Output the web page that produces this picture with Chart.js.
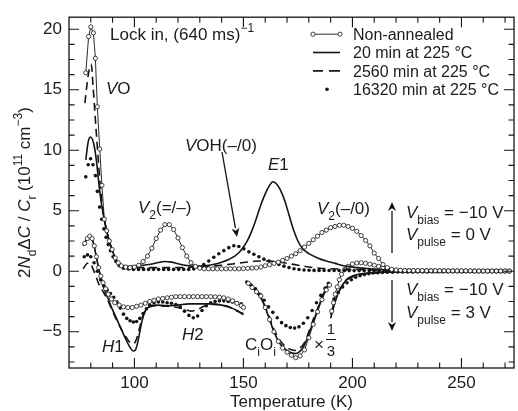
<!DOCTYPE html>
<html><head><meta charset="utf-8">
<script src="https://cdn.jsdelivr.net/npm/chart.js@4.4.1/dist/chart.umd.min.js"></script>
<style>html,body{margin:0;padding:0;background:#fff;}</style>
</head><body>
<canvas id="c" width="518" height="411"></canvas>
<script>
// ---------- axis tick labels ----------
const xTicks = [100, 150, 200, 250];
const yTicks = [-5, 0, 5, 10, 15, 20];
const seriesLabels = ['Non-annealed', '20 min at 225 °C', '2560 min at 225 °C', '16320 min at 225 °C'];

// ---------- Vpulse = 0 V (upper) ----------
const naUpT = [77.7,79.0,80.0,81.2,82.1,83.0,84.1,85.1,86.2,87.3,88.5,89.8,91.2,92.6,94,96,98,100,102,104,106,108,110,112,114,116,118,120,122,124,126,128,130,132,134,136,138,140,142,144,146,148,150,152,154,156,158,160,162,164,166,168,170,172,174,176,178,180,182,184,186,188,190,192,194,196,198,200,202,204,206,208,210,212,214,216,218,220,222,224,226,228,230,232,234,236,238,240,242,244,246,248,250,252,254,256,258,260,262,264,266,268,270,272];
const naUpV = [16.4,19.4,20.2,19.7,17.6,13.6,10.1,7.1,4.3,3.35,2.5,1.8,1.1,0.7,0.45,0.35,0.3,0.35,0.5,0.8,1.25,1.9,2.7,3.4,3.85,3.85,3.45,2.75,1.95,1.25,0.7,0.4,0.25,0.2,0.2,0.2,0.2,0.2,0.2,0.2,0.2,0.2,0.22,0.24,0.26,0.28,0.35,0.45,0.55,0.65,0.75,0.9,1.05,1.25,1.45,1.7,2.0,2.3,2.6,2.9,3.2,3.4,3.6,3.7,3.8,3.8,3.7,3.55,3.3,2.95,2.55,2.1,1.5,1.05,0.55,0.3,0.15,0.1,0.08,0.06,0.05,0.05,0.05,0.05,0.04,0.04,0.04,0.04,0.04,0.03,0.03,0.03,0.03,0.03,0.03,0.02,0.02,0.02,0.02,0.02,0.02,0.02,0.02,0.02];

const c20UpT = [77.7,78.8,79.9,81.4,82.6,83.6,84.6,85.6,86.6,87.6,88.6,89.6,90.6,92,94,97,100,104,108,111,114,117,120,124,128,132,136,140,143,146,148,150,152,154,156,158,160,162,163.5,165,167,169,171,173,175,177,180,184,188,192,196,202,208,215,225,240,255,272];
const c20UpV = [9.2,10.7,11.1,10.5,9.1,7.4,5.9,4.8,3.9,3.1,2.4,1.85,1.35,0.85,0.5,0.4,0.42,0.5,0.6,0.72,0.8,0.75,0.62,0.48,0.42,0.45,0.55,0.75,0.95,1.25,1.55,2.0,2.6,3.4,4.4,5.5,6.4,7.1,7.4,7.25,6.7,5.8,4.6,3.4,2.5,1.9,1.45,1.1,0.85,0.65,0.45,0.3,0.2,0.12,0.06,0.03,0.02,0.01];

const c2560UpT = [77.3,78.3,79.3,80.2,81.0,81.8,82.7,83.6,84.6,85.6,86.6,87.6,88.6,89.6,90.6,92,94,97,100,105,110,115,120,125,130,135,140,145,150,155,160,165,170,175,180,185,190,200,210,220,235,250,272];
const c2560UpV = [13.9,15.5,16.7,17.1,15.4,13.3,11.0,8.8,6.6,4.9,3.9,3.1,2.4,1.85,1.35,0.85,0.5,0.35,0.32,0.3,0.3,0.3,0.3,0.32,0.35,0.42,0.5,0.6,0.72,0.82,0.85,0.8,0.65,0.5,0.35,0.25,0.2,0.15,0.1,0.05,0.03,0.02,0.01];

const c16320UpT = [77.7,78.8,79.9,81.0,82.1,83.0,84.0,85.0,86.0,87.0,88.0,89.0,90.2,91.5,93,95,97.3,99.6,101.9,104.2,106.5,108.8,111.1,113.4,115.7,118,120.3,122.6,124.9,127.2,129.5,131.8,134.1,136.4,138.7,141,143.3,145.6,147.9,150.2,152.5,154.8,157.1,159.4,161.7,164,166.3,168.6,170.9,173.2,175.5,177.8,180.1,182.4,184.7,187,189.3,191.6,193.9,196.2,198.5,200.8,203.1,205.4,207.7,210,212.3,214.6,216.9,219.2,221.5,223.8,226.1,228.4,230.7,233,235.3,237.6,239.9,242.2,244.5,246.8,249.1,251.4,253.7,256,258.3,260.6,262.9,265.2,267.5,269.8,272.1];
const c16320UpV = [7.8,8.8,9.3,8.8,7.9,6.6,5.3,4.3,3.5,2.8,2.2,1.7,1.2,0.8,0.45,0.25,0.18,0.15,0.15,0.15,0.15,0.15,0.15,0.15,0.15,0.15,0.15,0.15,0.15,0.18,0.3,0.55,0.85,1.15,1.45,1.7,1.95,2.1,2.05,1.85,1.6,1.4,1.2,1.0,0.85,0.7,0.55,0.42,0.3,0.2,0.14,0.1,0.08,0.07,0.07,0.06,0.06,0.06,0.06,0.05,0.05,0.05,0.05,0.05,0.05,0.04,0.04,0.04,0.04,0.04,0.04,0.04,0.03,0.03,0.03,0.03,0.03,0.03,0.03,0.03,0.03,0.02,0.02,0.02,0.02,0.02,0.02,0.02,0.02,0.02,0.02,0.02,0.02];

// ---------- Vpulse = 3 V (lower; null = break) ----------
const naLowT = [77.2,78.4,79.5,80.6,81.6,82.6,83.6,84.6,85.6,86.8,88,89.5,91,93,95,97,99,101,103,105,107,109,111,113,115,117,119,121,123,125,127,129,131,133,135,137,139,141,143,145,147,149,150,151,152.3,154,156,158,160,162,164,166,168,170,172,174,176,178,180,182,184,186,188,189.5,190,190.5,191.3,192.1,193,194,195,196.5,198,200,202,204,206,208,210,212,214,216,218,220,222,224,226,228,230,232,234,236,238,240,242,244,246,248,250,252,254,256,258,260,262,264,266,268,270,272];
const naLowV = [2.3,2.7,2.9,2.7,2.1,1.2,0.3,-0.4,-0.95,-1.45,-1.9,-2.3,-2.6,-2.8,-2.95,-3.0,-3.0,-2.9,-2.8,-2.65,-2.5,-2.4,-2.3,-2.25,-2.2,-2.15,-2.1,-2.1,-2.1,-2.1,-2.1,-2.1,-2.1,-2.1,-2.1,-2.12,-2.15,-2.2,-2.3,-2.45,-2.65,-2.85,-3.0,null,-1.0,-1.35,-1.7,-2.05,-3.0,-4.0,-5.0,-5.8,-6.35,-6.7,-6.95,-7.15,-7.0,-6.5,-5.5,-4.4,-3.35,-2.35,-1.55,-1.15,null,-3.3,-2.6,-1.9,-1.3,-0.7,-0.25,0.15,0.4,0.6,0.68,0.7,0.65,0.58,0.5,0.4,0.3,0.2,0.12,0.08,0.06,0.05,0.05,0.04,0.04,0.04,0.03,0.03,0.03,0.03,0.03,0.02,0.02,0.02,0.02,0.02,0.02,0.02,0.01,0.01,0.01,0.01,0.01,0.01,0.01,0.01,0.01,0.01];

const c20LowT = [76.5,78,79.5,80.5,81.5,82.5,83.5,84.5,86,88,90,92,94,96,98,99.5,100.5,101.5,102.5,103.5,105,107,110,115,120,125,130,135,140,144,147,150,151,152,155,158,160,162,164,166,168,170,172,174,176,178,180,182,184,186,188,189.5,189.8,190,191.5,193,195,197.5,200,204,210,215,225,240,272];
const c20LowV = [2.1,2.6,2.9,2.7,2.1,1.2,0.3,-0.5,-1.4,-2.3,-3.2,-4.0,-4.8,-5.6,-6.3,-6.6,-6.5,-5.9,-5.0,-4.1,-3.3,-2.9,-2.8,-2.85,-2.8,-2.7,-2.7,-2.7,-2.8,-3.0,-3.25,-3.6,null,-1.0,-1.5,-2.2,-3.0,-4.0,-5.0,-5.75,-6.25,-6.55,-6.75,-6.8,-6.6,-6.1,-5.2,-4.2,-3.2,-2.2,-1.4,-1.0,null,-3.9,-2.9,-2.0,-1.3,-0.65,-0.4,-0.22,-0.12,-0.08,-0.04,-0.02,0];

const c2560LowT = [76.5,78,79.5,81,82.5,84,86,88,90,92,94,96,98,99.5,100.5,101.5,102.5,103.5,105,107,110,115,120,123,126,129,132,136,140,144,147,150,151,152,155,158,160,162,164,166,168,170,172,174,176,178,180,182,184,186,188,189.5,189.8,190,192,194,196,199,203,210,220,240,272];
const c2560LowV = [0.2,0.6,0.7,0.2,-0.5,-1.2,-1.8,-2.5,-3.3,-4.1,-4.8,-5.4,-5.9,-6.0,-5.8,-5.3,-4.6,-3.9,-3.25,-2.95,-2.85,-2.9,-3.0,-3.15,-3.3,-3.15,-2.9,-2.75,-2.8,-3.0,-3.3,-3.5,null,-1.0,-1.5,-2.2,-2.9,-3.85,-4.8,-5.5,-6.0,-6.3,-6.5,-6.55,-6.35,-5.9,-5.0,-4.0,-3.1,-2.15,-1.4,-1.0,null,-3.6,-2.5,-1.6,-1.0,-0.55,-0.3,-0.15,-0.06,-0.02,0];

const c16320LowT = [77,78.5,80,81.5,83,84.5,86,87.5,89,90.5,92,93.5,95,96.5,98,99.5,101,102.5,104,105.5,107,109,111,113,115,117,119,121,123,125,127,129,131,133,135,137,139,141,143,145,147,149,151.5,153.5,155.5,157.5,159.5,161.5,163.5,165.5,167.5,169.5,171.5,173.5,175.5,177.5,179.5,181.5,183.5,185.5,187.5,189,191.5,193.5,195.5,197.5,199.5,201.5,203.5,205.5,207.5,209.5,211.5,213.8,216.1,218.4,220.7,223,225.3,227.6,229.9,232.2,234.5,236.8,239.1,241.4,243.7,246,248.3,250.6,252.9,255.2,257.5,259.8,262.1,264.4,266.7,269,271.3];
const c16320LowV = [1.2,1.35,1.2,0.7,0.0,-0.7,-1.2,-1.55,-1.85,-2.15,-2.55,-3.05,-3.55,-3.9,-4.1,-4.2,-4.15,-3.9,-3.5,-3.1,-2.8,-2.6,-2.55,-2.55,-2.6,-2.65,-2.75,-2.95,-3.3,-3.65,-3.85,-3.7,-3.25,-2.85,-2.6,-2.5,-2.45,-2.45,-2.5,-2.55,-2.6,-2.7,-0.9,-1.15,-1.45,-1.9,-2.4,-2.95,-3.4,-3.85,-4.25,-4.5,-4.65,-4.7,-4.6,-4.3,-3.85,-3.25,-2.6,-2.0,-1.4,-1.0,-2.3,-1.75,-1.3,-0.95,-0.7,-0.5,-0.38,-0.28,-0.2,-0.15,-0.12,-0.1,-0.09,-0.08,-0.07,-0.07,-0.06,-0.06,-0.05,-0.05,-0.05,-0.04,-0.04,-0.04,-0.03,-0.03,-0.03,-0.03,-0.02,-0.02,-0.02,-0.02,-0.02,-0.02,-0.01,-0.01,-0.01];

// ---------- build chart ----------
const INK = '#141414';
const FONT = '"Liberation Sans", Arial, Helvetica, sans-serif';
const pts = (T, V) => T.map((t, i) => ({x: t, y: V[i]}));

function circleSet(label, T, V) {
  return {label, data: pts(T, V), borderColor: INK, borderWidth: 0.9, pointRadius: 2.1,
    pointBackgroundColor: '#fff', pointBorderColor: INK, pointBorderWidth: 0.8, pointHoverRadius: 0, spanGaps: false};
}
function solidSet(label, T, V, dash) {
  return {label, data: pts(T, V), borderColor: INK, borderWidth: 1.6, pointRadius: 0,
    borderDash: dash || [], cubicInterpolationMode: 'monotone', spanGaps: false};
}
function dotSet(label, T, V) {
  return {label, data: pts(T, V), showLine: false, borderColor: INK, pointRadius: 1.8,
    pointBackgroundColor: INK, pointBorderWidth: 0};
}

const datasets = [
  circleSet(seriesLabels[0], naUpT, naUpV),
  solidSet(seriesLabels[1], c20UpT, c20UpV),
  solidSet(seriesLabels[2], c2560UpT, c2560UpV, [8, 5]),
  dotSet(seriesLabels[3], c16320UpT, c16320UpV),
  circleSet(seriesLabels[0] + ' (3 V)', naLowT, naLowV),
  solidSet(seriesLabels[1] + ' (3 V)', c20LowT, c20LowV),
  solidSet(seriesLabels[2] + ' (3 V)', c2560LowT, c2560LowV, [8, 5]),
  dotSet(seriesLabels[3] + ' (3 V)', c16320LowT, c16320LowV)
];

function fontFor(style, size) {
  const st = style.split(' ');
  const small = st.includes('sub') || st.includes('sup');
  const s = small ? Math.round(size * 0.7) : size;
  return (st.includes('i') ? 'italic ' : '') + s + 'px ' + FONT;
}
function rich(ctx, x, y, parts, size, align) {
  const ws = parts.map(p => { ctx.font = fontFor(p[1] || '', size); return ctx.measureText(p[0]).width; });
  const total = ws.reduce((a, b) => a + b, 0);
  let cx = align === 'center' ? x - total / 2 : (align === 'right' ? x - total : x);
  parts.forEach((p, i) => {
    const st = (p[1] || '').split(' ');
    const dy = st.includes('sub') ? size * 0.38 : (st.includes('sup') ? -size * 0.5 : 0);
    ctx.font = fontFor(p[1] || '', size);
    ctx.fillText(p[0], cx, y + dy);
    cx += ws[i];
  });
}
function arrow(ctx, x1, y1, x2, y2) {
  const ang = Math.atan2(y2 - y1, x2 - x1), L = 9, W = 4;
  const bx = x2 - L * Math.cos(ang), by = y2 - L * Math.sin(ang);
  ctx.beginPath(); ctx.moveTo(x1, y1); ctx.lineTo(bx, by); ctx.stroke();
  ctx.beginPath(); ctx.moveTo(x2, y2);
  ctx.lineTo(bx + W * Math.sin(ang), by - W * Math.cos(ang));
  ctx.lineTo(bx + 0.3 * L * Math.cos(ang), by + 0.3 * L * Math.sin(ang));
  ctx.lineTo(bx - W * Math.sin(ang), by + W * Math.cos(ang));
  ctx.closePath(); ctx.fill();
}

const decor = {
  id: 'decor',
  afterDraw(chart) {
    const ctx = chart.ctx, a = chart.chartArea, xs = chart.scales.x, ys = chart.scales.y;
    ctx.save();
    ctx.strokeStyle = INK; ctx.fillStyle = INK; ctx.lineWidth = 1.3;
    ctx.strokeRect(a.left, a.top, a.right - a.left, a.bottom - a.top);
    ctx.lineWidth = 1.1;
    ctx.beginPath();
    for (let t = 80; t <= 270; t += 10) {
      const px = xs.getPixelForValue(t), L = (t % 50 === 0) ? 10 : 5.5;
      ctx.moveTo(px, a.bottom); ctx.lineTo(px, a.bottom - L);
      ctx.moveTo(px, a.top); ctx.lineTo(px, a.top + L);
    }
    for (let k = -6; k <= 16; k++) {
      const v = k * 1.25, py = ys.getPixelForValue(v), L = (k % 4 === 0) ? 10 : 5.5;
      ctx.moveTo(a.left, py); ctx.lineTo(a.left + L, py);
      ctx.moveTo(a.right, py); ctx.lineTo(a.right - L, py);
    }
    ctx.stroke();

    // axis titles
    ctx.fillStyle = '#1c1c1c';
    ctx.textBaseline = 'alphabetic';
    ctx.font = '17px ' + FONT; ctx.textAlign = 'center';
    ctx.fillText('Temperature (K)', (a.left + a.right) / 2, 407);
    ctx.textAlign = 'left';
    ctx.save();
    ctx.translate(30, (a.top + a.bottom) / 2); ctx.rotate(-Math.PI / 2);
    rich(ctx, 0, 0, [['2'], ['N', 'i'], ['d', 'sub'], ['\u0394'], ['C', 'i'], [' / '], ['C', 'i'], ['r', 'sub'], [' (10'], ['11', 'sup'], [' cm'], ['\u22123', 'sup'], [')']], 17, 'center');
    ctx.restore();

    // annotations
    const S = 17;
    rich(ctx, 110, 40, [['Lock in, (640 ms)'], ['\u22121', 'sup']], S, 'left');
    rich(ctx, 106, 94, [['V', 'i'], ['O']], S, 'left');
    rich(ctx, 185, 151, [['V', 'i'], ['OH(\u2013/0)']], S, 'left');
    rich(ctx, 138, 213, [['V', 'i'], ['2', 'sub'], ['(=/\u2013)']], S, 'left');
    rich(ctx, 268, 170, [['E', 'i'], ['1']], S, 'left');
    rich(ctx, 317, 214, [['V', 'i'], ['2', 'sub'], ['(\u2013/0)']], S, 'left');
    rich(ctx, 102, 352, [['H', 'i'], ['1']], S, 'left');
    rich(ctx, 182, 340, [['H', 'i'], ['2']], S, 'left');
    rich(ctx, 245, 350, [['C'], ['i', 'sub'], ['O'], ['i', 'sub']], S, 'left');
    ctx.font = '17px ' + FONT; ctx.textAlign = 'center';
    ctx.fillText('\u00d7', 319, 350);
    ctx.font = '15px ' + FONT;
    ctx.fillText('1', 331, 334);
    ctx.fillText('3', 331, 356);
    ctx.lineWidth = 1; ctx.beginPath(); ctx.moveTo(326, 339.5); ctx.lineTo(336, 339.5); ctx.stroke();
    ctx.textAlign = 'left';
    rich(ctx, 406, 218, [['V', 'i'], ['bias', 'sub'], [' = \u221210 V']], S, 'left');
    rich(ctx, 406, 240, [['V', 'i'], ['pulse', 'sub'], [' = 0 V']], S, 'left');
    rich(ctx, 406, 295, [['V', 'i'], ['bias', 'sub'], [' = \u221210 V']], S, 'left');
    rich(ctx, 406, 318, [['V', 'i'], ['pulse', 'sub'], [' = 3 V']], S, 'left');

    // arrows
    ctx.lineWidth = 1.3; ctx.fillStyle = INK;
    arrow(ctx, 392, 253, 392, 202);
    arrow(ctx, 392, 280, 392, 331);
    arrow(ctx, 222, 152, 237, 237);

    // legend
    const rows = [34.2, 52.5, 70.9, 89.2];
    const lx0 = 313, lx1 = 340, tx = 353;
    ctx.lineWidth = 0.9;
    ctx.beginPath(); ctx.moveTo(lx0, rows[0]); ctx.lineTo(lx1, rows[0]); ctx.stroke();
    [lx0, lx1].forEach(px => { ctx.beginPath(); ctx.arc(px, rows[0], 2.1, 0, Math.PI * 2); ctx.fillStyle = '#fff'; ctx.fill(); ctx.lineWidth = 0.8; ctx.stroke(); });
    ctx.lineWidth = 1.6;
    ctx.beginPath(); ctx.moveTo(lx0, rows[1]); ctx.lineTo(lx1, rows[1]); ctx.stroke();
    ctx.beginPath(); ctx.moveTo(lx0, rows[2]); ctx.lineTo(lx0 + 10, rows[2]); ctx.moveTo(lx0 + 16, rows[2]); ctx.lineTo(lx1, rows[2]); ctx.stroke();
    ctx.fillStyle = INK;
    ctx.beginPath(); ctx.arc(327, rows[3], 1.8, 0, Math.PI * 2); ctx.fill();
    ctx.fillStyle = '#1c1c1c'; ctx.font = '16px ' + FONT;
    seriesLabels.forEach((s, i) => ctx.fillText(s, tx, rows[i] + 5.8));
    ctx.restore();
  }
};

new Chart(document.getElementById('c'), {
  type: 'line',
  data: {datasets},
  options: {
    responsive: false, animation: false, devicePixelRatio: 1,
    layout: {padding: {top: 8, right: 0, left: 0, bottom: 0}},
    plugins: {legend: {display: false}, tooltip: {enabled: false}},
    elements: {line: {tension: 0}},
    scales: {
      x: {type: 'linear', min: 70, max: 274.1,
        afterBuildTicks: s => { s.ticks = xTicks.map(v => ({value: v})); },
        afterFit: s => { s.height = 43; },
        grid: {display: false, drawTicks: false}, border: {display: false},
        ticks: {padding: 5, color: '#1c1c1c', font: {family: FONT, size: 17}, maxRotation: 0, callback: v => String(v)}},
      y: {type: 'linear', min: -8, max: 21,
        afterBuildTicks: s => { s.ticks = yTicks.map(v => ({value: v})); },
        afterFit: s => { s.width = 69; },
        grid: {display: false, drawTicks: false}, border: {display: false},
        ticks: {padding: 7, color: '#1c1c1c', font: {family: FONT, size: 17}, callback: v => v < 0 ? '\u2212' + Math.abs(v) : String(v)}}
    }
  },
  plugins: [decor]
});
</script>
</body></html>
